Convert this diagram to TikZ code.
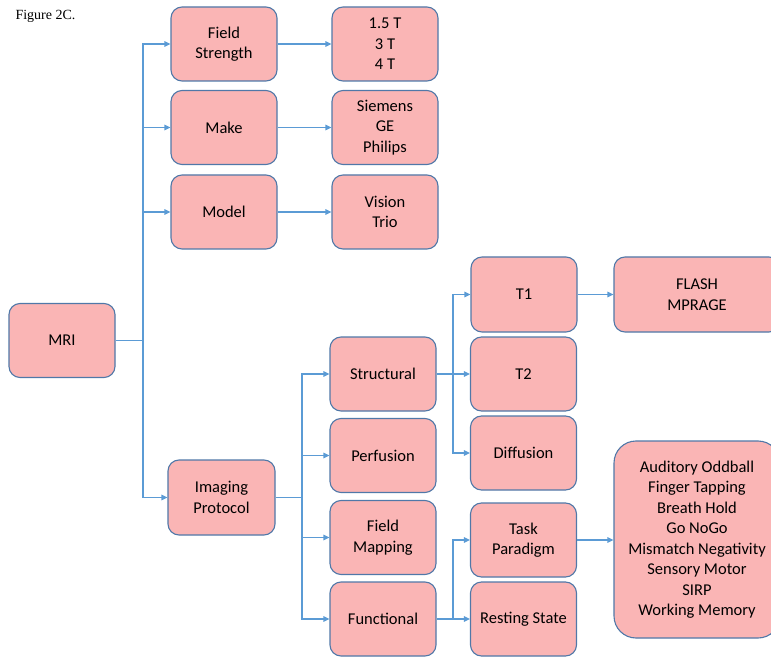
\documentclass[tikz,border=0pt]{standalone}
\usepackage{fontspec}
\setmainfont{Carlito}
\newfontfamily\seriffont{Liberation Serif}
\usetikzlibrary{arrows.meta}
\definecolor{boxfill}{RGB}{250,181,181}
\definecolor{boxline}{RGB}{80,120,168}
\definecolor{conn}{RGB}{91,155,213}
\tikzset{
  box/.style={draw=boxline, fill=boxfill, line width=1.1pt, rounded corners=11pt,
    minimum width=106pt, minimum height=74pt, align=center, inner sep=0pt,
    font=\fontsize{16.5}{20.5}\selectfont},
  bigbox/.style={box, rounded corners=22pt, minimum width=166pt},
  ln/.style={draw=conn, line width=1.3pt},
  arr/.style={ln, -{Triangle[length=6pt,width=5.5pt]}},
}
\begin{document}
\begin{tikzpicture}[x=1pt,y=-1pt]
\clip (0,0) rectangle (771,660);
\node[font=\seriffont\fontsize{14}{16}\selectfont, anchor=base west] (title) at (12,20) {Figure 2C.};
% first level
\node[box] (MRI) at (62,340.5) {MRI};
\node[box] (FS) at (224,44) {Field\\Strength};
\node[box] (Make) at (224,127.5) {Make};
\node[box] (Model) at (224,212) {Model};
\node[box, minimum width=107pt, minimum height=75pt] (IP) at (221.5,497.5) {Imaging\\Protocol};
% values
\node[box] (FSv) at (385,44) {1.5 T\\3 T\\4 T};
\node[box] (Makev) at (385,127.5) {Siemens\\GE\\Philips};
\node[box] (Modelv) at (385,212) {Vision\\Trio};
% protocol
\node[box] (Struct) at (383,374) {Structural};
\node[box] (Perf) at (383,455.5) {Perfusion};
\node[box] (FM) at (383,537.5) {Field\\Mapping};
\node[box] (Func) at (383,619) {Functional};
\node[box, minimum height=75pt] (T1) at (524,294.5) {T1};
\node[box] (T2) at (523.5,374) {T2};
\node[box] (Diff) at (523.5,453) {Diffusion};
\node[box] (Task) at (523.5,540) {Task\\Paradigm};
\node[box] (Rest) at (523.5,619) {Resting State};
\node[box, minimum width=166pt, minimum height=75pt] (Flash) at (697,294.5) {FLASH\\MPRAGE};
\node[bigbox, minimum height=197pt] (Tasks) at (697,539.5) {Auditory Oddball\\Finger Tapping\\Breath Hold\\Go NoGo\\Mismatch Negativity\\Sensory Motor\\SIRP\\Working Memory};
% junctions
\coordinate (j1) at (143,340.5);
\coordinate (j2) at (302,497.5);
\coordinate (j3) at (453,374);
\coordinate (j4) at (453,619);
% connectors
\draw[ln] (MRI.east) -- (j1);
\draw[arr] (j1) |- (FS);
\draw[arr] (j1) |- (Make);
\draw[arr] (j1) |- (Model);
\draw[arr] (j1) |- (IP);
\draw[arr] (FS) -- (FSv);
\draw[arr] (Make) -- (Makev);
\draw[arr] (Model) -- (Modelv);
\draw[ln] (IP.east) -- (j2);
\draw[arr] (j2) |- (Struct);
\draw[arr] (j2) |- (Perf);
\draw[arr] (j2) |- (FM);
\draw[arr] (j2) |- (Func);
\draw[arr] (Struct) -- (T2);
\draw[arr] (j3) |- (T1);
\draw[arr] (j3) |- (Diff);
\draw[arr] (Func) -- (Rest);
\draw[arr] (j4) |- (Task);
\draw[arr] (T1) -- (Flash);
\draw[arr] (Task.east) -- (Task.east -| Tasks.west);
\end{tikzpicture}
\end{document}
